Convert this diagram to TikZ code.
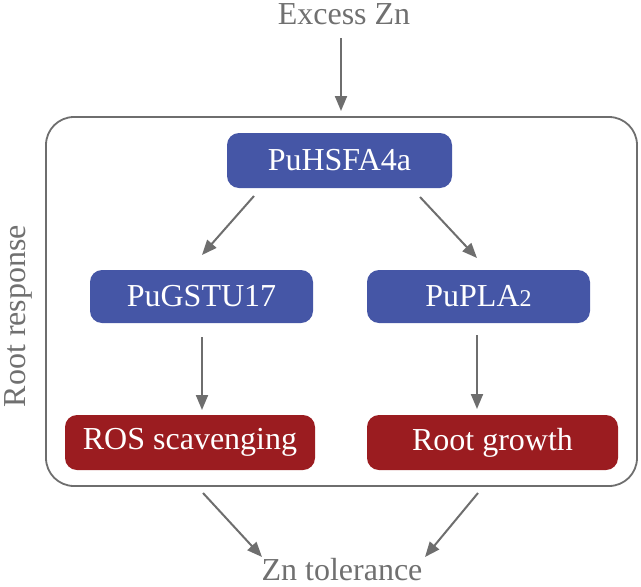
\documentclass[tikz,border=0pt]{standalone}
\usepackage{fontspec}
\setmainfont{Liberation Serif}
\usetikzlibrary{arrows.meta}
\definecolor{gtxt}{HTML}{707070}
\definecolor{garr}{HTML}{6E6E6E}
\definecolor{bbox}{HTML}{4556A6}
\definecolor{rbox}{HTML}{9B1C20}
\begin{document}
\begin{tikzpicture}[x=1pt,y=-1pt,
  lbl/.style={text=gtxt,font=\fontsize{32}{34}\selectfont,inner sep=0pt},
  bluebox/.style={fill=bbox,rounded corners=12pt,text=white,font=\fontsize{32}{34}\selectfont,inner sep=0pt},
  redbox/.style={fill=rbox,rounded corners=12pt,text=white,font=\fontsize{32}{34}\selectfont,inner sep=0pt},
  arr/.style={draw=garr,line width=2pt,-{Triangle[length=15pt,width=12pt]}}]
\useasboundingbox (0,0) rectangle (641,587);
\node[lbl,anchor=base] (excess) at (344,24) {Excess Zn};
\node[lbl,anchor=base] (tol) at (342,580) {Zn tolerance};
\node[lbl,rotate=90,anchor=base] (resp) at (25,316) {Root response};
\draw[garr,line width=1.8pt,rounded corners=28pt] (46,117) rectangle (637,486);
\node[bluebox,minimum width=225pt,minimum height=55pt] (hsf) at (339.5,160.5) {PuHSFA4a};
\node[bluebox,minimum width=223pt,minimum height=53pt] (gst) at (201.5,296.5) {PuGSTU17};
\node[bluebox,minimum width=223pt,minimum height=53pt] (pla) at (478.5,296.5) {PuPLA{\fontsize{24}{26}\selectfont 2}};
\node[redbox,minimum width=250pt,minimum height=55pt] (ros) at (190,442.5) {ROS scavenging};
\node[redbox,minimum width=251pt,minimum height=55pt] (grow) at (492.5,442.5) {Root growth};
\coordinate (bl) at (203,493);
\coordinate (br) at (478,493);
\draw[arr] (341,38) -- (341,111);
\draw[arr] (254,196) -- (202,255);
\draw[arr] (420,197) -- (477,258);
\draw[arr] (202,337) -- (202,410);
\draw[arr] (477,335) -- (477,409);
\draw[arr] (bl) -- (262,557);
\draw[arr] (br) -- (425,557);
\end{tikzpicture}
\end{document}
